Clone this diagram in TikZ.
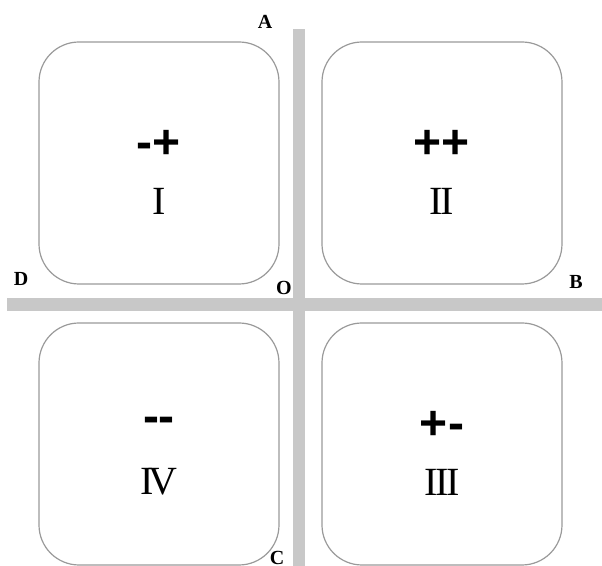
\documentclass[tikz,border=0pt]{standalone}
\usepackage{fontspec}
\setmainfont{Liberation Serif}
\setsansfont{Liberation Sans}
\usetikzlibrary{positioning}
\definecolor{cbar}{HTML}{C8C8C8}
\definecolor{cedge}{HTML}{9A9A9A}
\tikzset{
  every picture/.style={line width=0.6pt},
  quad/.style={draw=cedge, fill=white, rounded corners=20pt, minimum width=120pt, minimum height=121pt, inner sep=0pt},
  sign/.style={font=\sffamily\bfseries\fontsize{24}{24}\selectfont, inner sep=0pt},
  numeral/.style={font=\fontsize{20}{20}\selectfont, inner sep=0pt},
  corner/.style={font=\bfseries\fontsize{10}{10}\selectfont, inner sep=0pt},
}

\begin{document}
\begin{tikzpicture}[x=0.5pt, y=-0.5pt]
  \useasboundingbox (0,0) rectangle (602,566);
  % axes
  \fill[cbar] (293,29) rectangle (305,566);
  \fill[cbar] (7,298) rectangle (602,311);
  % quadrants
  \foreach \s/\r/\n/\x/\y in {{-+}/I/qI/159/163, {++}/{I\kern-1pt I}/qII/442/163, {+-}/{I\kern-1pt I\kern-1pt I}/qIII/442/444, {-{}-}/{I\kern-3pt V}/qIV/159/444} {
    \node[quad] (\n) at (\x,\y) {};
    \node[sign] (\n s) at (\x,\y-19) {\s};
    \node[numeral] (\n r) at (\x,\y+38) {\r};
  }
  % corner letters
  \node[corner] (A) at (265,22) {A};
  \node[corner] (B) at (576,282) {B};
  \node[corner] (C) at (277,558) {C};
  \node[corner] (D) at (21,279) {D};
  \node[corner] (O) at (284,288) {O};
\end{tikzpicture}
\end{document}
